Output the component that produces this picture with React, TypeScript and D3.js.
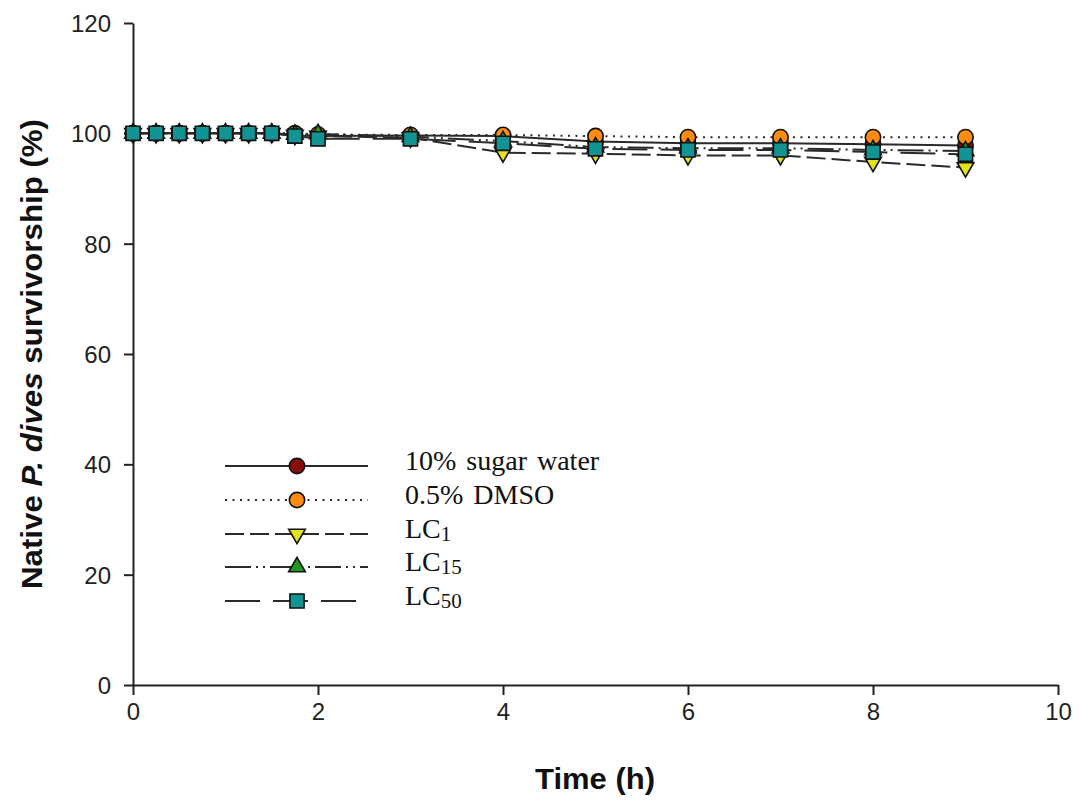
import React, { useEffect, useRef } from 'react';
import * as d3 from 'd3';

// time points (h)
const times = [0, 0.25, 0.5, 0.75, 1, 1.25, 1.5, 1.75, 2, 3, 4, 5, 6, 7, 8, 9];

// survivorship (%) per treatment
const sugarWater = [100, 100, 100, 100, 100, 100, 100, 99.6, 99.5, 99.6, 99.5, 98.5, 98.2, 98.2, 98.0, 97.8];
const dmso = [100, 100, 100, 100, 100, 100, 100, 100, 99.8, 99.7, 99.7, 99.5, 99.3, 99.3, 99.3, 99.3];
const lc1 = [100, 100, 100, 100, 100, 100, 100, 99.7, 99.5, 99.2, 96.5, 96.3, 96.0, 96.0, 94.8, 93.8];
const lc15 = [100, 100, 100, 100, 100, 100, 100, 99.8, 99.9, 99.4, 98.6, 97.5, 97.3, 97.3, 97.0, 96.8];
const lc50 = [100, 100, 100, 100, 100, 100, 100, 99.5, 99.0, 99.0, 98.2, 97.2, 97.0, 97.0, 96.6, 96.2];

const xTicks = [0, 2, 4, 6, 8, 10];
const yTicks = [0, 20, 40, 60, 80, 100, 120];

const series = [
  { name: '10% sugar water', sub: '', values: sugarWater, fill: '#8b0a0a', dash: null, symbol: d3.symbolCircle, size: 185 },
  { name: '0.5% DMSO', sub: '', values: dmso, fill: '#ff8c10', dash: '2,5.5', symbol: d3.symbolCircle, size: 185 },
  { name: 'LC', sub: '1', values: lc1, fill: '#e4e41c', dash: '19,6', symbol: d3.symbolTriangle, size: 120, flip: true },
  { name: 'LC', sub: '15', values: lc15, fill: '#1e9a1e', dash: '26,5,2,5,2,5', symbol: d3.symbolTriangle, size: 120 },
  { name: 'LC', sub: '50', values: lc50, fill: '#129494', dash: '35,13', symbol: d3.symbolSquare, size: 200 },
];

const W = 1080;
const H = 801;

export default function App() {
  const ref = useRef<SVGSVGElement>(null);

  useEffect(() => {
    const svg = d3.select(ref.current);
    svg.selectAll('*').remove();

    const x = d3.scaleLinear().domain([0, 10]).range([133, 1058]);
    const y = d3.scaleLinear().domain([0, 120]).range([685, 23]);

    // axes
    const xAxis = svg.append('g')
      .attr('transform', 'translate(0,685)')
      .call(d3.axisBottom(x).tickValues(xTicks).tickSize(10).tickPadding(8).tickSizeOuter(0));
    const yAxis = svg.append('g')
      .attr('transform', 'translate(133,0)')
      .call(d3.axisLeft(y).tickValues(yTicks).tickSize(9).tickPadding(13).tickSizeOuter(0));

    [xAxis, yAxis].forEach(a => {
      a.select('.domain').attr('stroke', '#222').attr('stroke-width', 2);
      a.selectAll('.tick line').attr('stroke', '#222').attr('stroke-width', 2);
      a.selectAll('.tick text')
        .attr('fill', '#222')
        .style('font-family', '"Liberation Sans", Arial, sans-serif')
        .style('font-size', '24px');
    });
    yAxis.selectAll('.tick text').attr('dy', '0.36em');

    // axis titles
    svg.append('text')
      .attr('x', 595).attr('y', 789)
      .attr('text-anchor', 'middle')
      .attr('textLength', 120).attr('lengthAdjust', 'spacingAndGlyphs')
      .style('font-family', '"Liberation Sans", Arial, sans-serif')
      .style('font-size', '29px').style('font-weight', 'bold')
      .attr('fill', '#111')
      .text('Time (h)');

    const yt = svg.append('text')
      .attr('transform', 'translate(42,354) rotate(-90)')
      .attr('text-anchor', 'middle')
      .attr('textLength', 470).attr('lengthAdjust', 'spacingAndGlyphs')
      .style('font-family', '"Liberation Sans", Arial, sans-serif')
      .style('font-size', '30px').style('font-weight', 'bold')
      .attr('fill', '#111');
    yt.append('tspan').text('Native ');
    yt.append('tspan').style('font-style', 'italic').text('P. dives');
    yt.append('tspan').text(' survivorship (%)');

    const line = d3.line<number>()
      .x((d, i) => x(times[i]))
      .y(d => y(d));

    const marker = (g: any, s: any, cx: number, cy: number) => {
      g.append('path')
        .attr('d', d3.symbol().type(s.symbol).size(s.size)())
        .attr('transform', `translate(${cx},${cy})` + (s.flip ? ' rotate(180)' : ''))
        .attr('fill', s.fill)
        .attr('stroke', '#111')
        .attr('stroke-width', 1.6);
    };

    // data series
    series.forEach(s => {
      const g = svg.append('g');
      g.append('path')
        .datum(s.values)
        .attr('d', line)
        .attr('fill', 'none')
        .attr('stroke', '#2a2a2a')
        .attr('stroke-width', 2)
        .attr('stroke-dasharray', s.dash);
      s.values.forEach((v, i) => marker(g, s, x(times[i]), y(v)));
    });

    // legend
    const rows = [466, 500, 534, 567, 601];
    series.forEach((s, i) => {
      const g = svg.append('g');
      const ly = rows[i];
      g.append('line')
        .attr('x1', 225).attr('x2', 368)
        .attr('y1', ly).attr('y2', ly)
        .attr('stroke', '#2a2a2a')
        .attr('stroke-width', 2)
        .attr('stroke-dasharray', s.dash);
      marker(g, s, 297, ly);
      const t = g.append('text')
        .attr('x', 405).attr('y', ly + 4)
        .style('font-family', '"Liberation Serif", "Times New Roman", serif')
        .style('font-size', '28px')
        .style('word-spacing', '3px')
        .attr('fill', '#111');
      t.append('tspan').text(s.name);
      if (s.sub) t.append('tspan').style('font-size', '21px').attr('dy', 3).text(s.sub);
    });
  }, []);

  return (
    <svg ref={ref} width={W} height={H}
      style={{ position: 'absolute', left: 0, top: 0, background: '#fff' }} />
  );
}
